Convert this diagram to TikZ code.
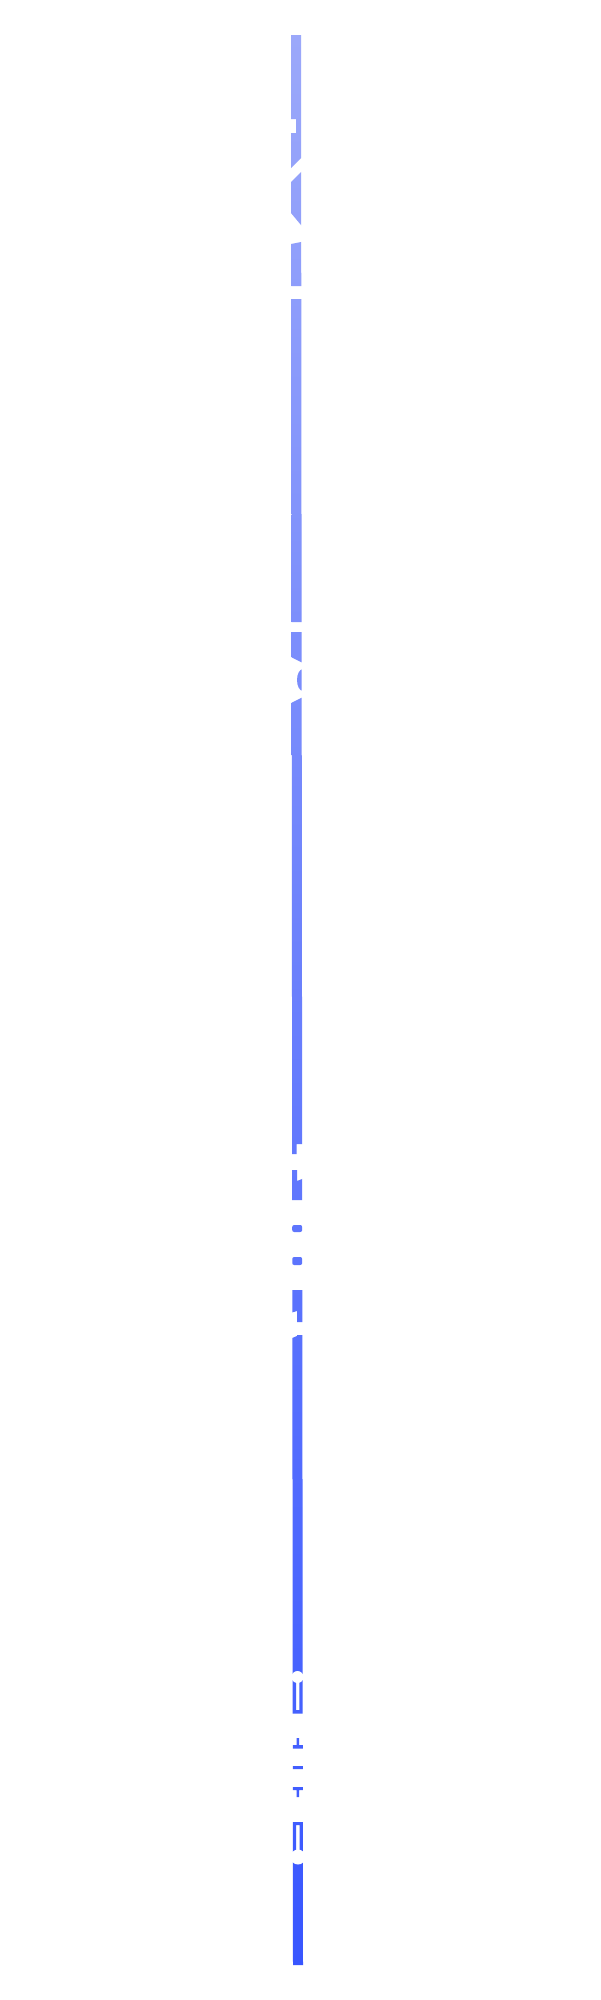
\documentclass[tikz,border=0pt]{standalone}
\definecolor{barTop}{RGB}{155,168,250}
\definecolor{barBot}{RGB}{56,86,255}

\begin{document}
\begin{tikzpicture}[x=1pt, y=-1pt,
  barshade/.style={top color=barTop, bottom color=barBot},
  gap/.style={fill=white}
]

\useasboundingbox[fill=white] (0,0) rectangle (600,2000);

\begin{scope}
\clip (280,35) rectangle (320,119)
  (296,119) rectangle (320,133)
  (280,133) -- (320,133) -- (320,139) -- (280,179) -- cycle
  (280,193) -- (320,153) -- (320,247.8) -- (280,199.8) -- cycle
  (280,246.2) -- (320,238.2) -- (320,286) -- (280,286) -- cycle
  (280,299) rectangle (320,622)
  (280,632) -- (320,632) -- (320,671.5) -- (280,651.5) -- cycle
  (303,680) ellipse[x radius=6, y radius=11]
  (280,708.5) -- (320,688.5) -- (320,1144) -- (280,1144) -- cycle
  (280,1144) rectangle (296.5,1154)
  (280,1170) -- (297,1170) -- (297,1181) -- (320,1172) -- (320,1200) -- (280,1200) -- cycle
  (280,1290) -- (320,1290) -- (320,1322) -- (297,1322) -- (297,1311) -- (280,1316) -- cycle
  (280,1343) -- (297,1336) -- (297,1335) -- (320,1335) -- (320,1674) -- (280,1674) -- cycle
  (280,1680) rectangle (296,1710)
  (299.3,1680) rectangle (320,1710)
  (280,1710) rectangle (320,1713.5)
  (296.5,1738) rectangle (299.2,1745)
  (280,1745) rectangle (320,1748.5)
  (280,1766) rectangle (320,1769)
  (280,1787) rectangle (320,1790)
  (296.5,1790) rectangle (299.2,1797)
  (280,1822) rectangle (320,1825)
  (280,1825) rectangle (296,1852)
  (299.5,1825) rectangle (320,1852)
  (280,1862) rectangle (320,1965)
  [rounded corners=2] (292.2,1225) rectangle (302.2,1232)
  (292.2,1257) rectangle (302.2,1265);
\shade[barshade] (291,35) -- (301,35) -- (303,1965) -- (293,1965) -- cycle;
\end{scope}

\fill[gap] (297.5,1677) circle[radius=6];
\fill[gap] (298,1857) circle[radius=7.5];

\end{tikzpicture}
\end{document}
